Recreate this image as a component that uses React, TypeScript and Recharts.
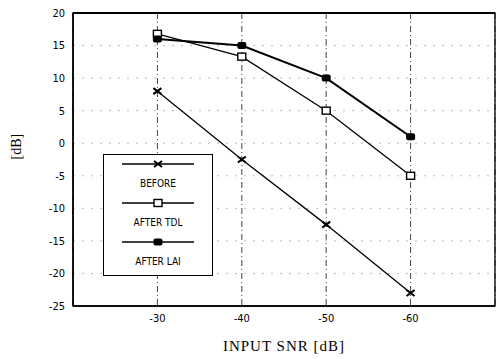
import { CartesianGrid, Line, LineChart, ReferenceArea, ReferenceLine, XAxis, YAxis } from 'recharts';

const inputSnr = [-30, -40, -50, -60];
const before = [8, -2.5, -12.5, -23];
const afterTdl = [16.8, 13.3, 5, -5];
const afterLai = [16, 15, 10, 1];
const yTicks = [-25, -20, -15, -10, -5, 0, 5, 10, 15, 20];

const data = inputSnr.map((x, i) => ({
  snr: x,
  before: before[i],
  tdl: afterTdl[i],
  lai: afterLai[i],
}));

const crossDot = (p: any) => {
  const { cx, cy, key } = p;
  return (
    <g key={key}>
      <path d={`M${cx - 4},${cy - 3}L${cx + 4},${cy + 3}M${cx - 4},${cy + 3}L${cx + 4},${cy - 3}`} stroke="#000" strokeWidth={2} />
    </g>
  );
};

const squareDot = (p: any) => {
  const { cx, cy, key } = p;
  return <rect key={key} x={cx - 4} y={cy - 3.5} width={8} height={7} fill="#fff" stroke="#000" strokeWidth={1.4} />;
};

const filledDot = (p: any) => {
  const { cx, cy, key } = p;
  return <rect key={key} x={cx - 4.5} y={cy - 3.5} width={9} height={7} rx={2} fill="#000" />;
};

const legendRows = [
  { label: 'BEFORE', kind: 'cross' },
  { label: 'AFTER TDL', kind: 'square' },
  { label: 'AFTER LAI', kind: 'filled' },
];

function LegendBox() {
  return (
    <div
      style={{
        position: 'absolute',
        left: 103,
        top: 154,
        width: 110,
        height: 122,
        border: '1.5px solid #000',
        background: '#fff',
        fontFamily: '"Liberation Sans Narrow", "DejaVu Sans Condensed", sans-serif',
        fontSize: 10,
        color: '#000',
        boxSizing: 'border-box',
        paddingTop: 1,
      }}
    >
      {legendRows.map((r) => (
        <div key={r.label} style={{ textAlign: 'center' }}>
          <svg width={80} height={16} style={{ display: 'block', margin: '0 auto' }}>
            <line x1={4} y1={8} x2={76} y2={8} stroke="#000" strokeWidth={1.3} />
            {r.kind === 'cross' && crossDot({ cx: 40, cy: 8 })}
            {r.kind === 'square' && squareDot({ cx: 40, cy: 8 })}
            {r.kind === 'filled' && filledDot({ cx: 40, cy: 8 })}
          </svg>
          <div style={{ height: 23, lineHeight: '23px' }}>{r.label}</div>
        </div>
      ))}
    </div>
  );
}

export default function App() {
  return (
    <div style={{ position: 'absolute', left: 0, top: 0, width: 498, height: 359, background: '#fff' }}>
      <LineChart width={498} height={359} data={data} margin={{ top: 13, right: 3, left: 0, bottom: 0 }}>
        <CartesianGrid horizontal={false} stroke="#444" strokeDasharray="6 3 1 3" />
        <CartesianGrid vertical={false} stroke="#bbb" strokeDasharray="2 7" />
        <XAxis
          dataKey="snr"
          type="number"
          domain={[-70, -20]}
          reversed
          ticks={inputSnr}
          tickLine={false}
          axisLine={{ stroke: '#000', strokeWidth: 1.5 }}
          height={53}
          tick={{ fontSize: 11, fill: '#000', fontFamily: '"DejaVu Sans Condensed", sans-serif' }}
          label={{ value: 'INPUT SNR [dB]', position: 'insideBottom', offset: 8, fill: '#000', fontSize: 15, letterSpacing: 1, fontFamily: '"Liberation Serif", serif' }}
        />
        <YAxis
          type="number"
          domain={[-25, 20]}
          ticks={yTicks}
          tickLine={false}
          axisLine={{ stroke: '#000', strokeWidth: 1.5 }}
          width={73}
          tick={{ fontSize: 11, fill: '#000', fontFamily: '"DejaVu Sans Condensed", sans-serif' }}
          label={{ value: '[dB]', angle: -90, position: 'insideLeft', offset: 16, fill: '#000', fontSize: 14, fontFamily: '"Liberation Serif", serif' }}
        />
        <ReferenceArea x1={-70} x2={-20} y1={-25} y2={20} fill="none" stroke="#000" strokeWidth={1.3} />
        <ReferenceLine y={20} stroke="#000" strokeWidth={2.2} />
        <Line dataKey="before" stroke="#000" strokeWidth={1.3} dot={crossDot} isAnimationActive={false} />
        <Line dataKey="tdl" stroke="#000" strokeWidth={1.3} dot={squareDot} isAnimationActive={false} />
        <Line dataKey="lai" stroke="#000" strokeWidth={2} dot={filledDot} isAnimationActive={false} />
      </LineChart>
      <LegendBox />
    </div>
  );
}
